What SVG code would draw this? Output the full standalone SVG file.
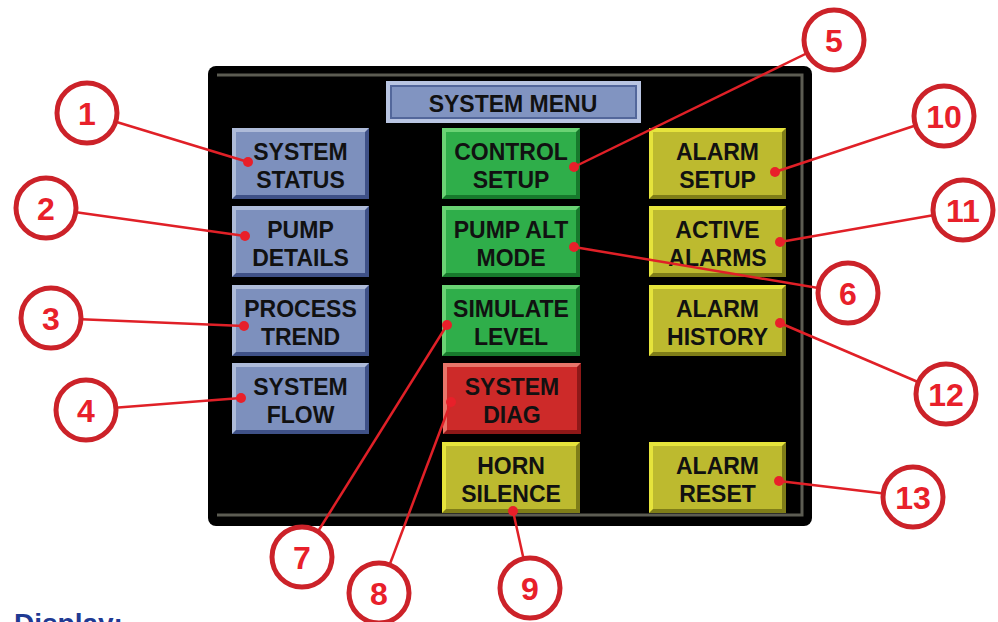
<svg xmlns="http://www.w3.org/2000/svg" width="998" height="622" viewBox="0 0 998 622">
<style>
.btxt{font-family:"Liberation Sans",Arial,sans-serif;font-weight:bold;font-size:23px;fill:#111;text-anchor:middle}
.num{font-family:"Liberation Sans",Arial,sans-serif;font-weight:bold;font-size:32px;fill:#e8202a;text-anchor:middle}
.ring{fill:#fff;stroke:#cc2229;stroke-width:5}
.lead{stroke:#e02027;stroke-width:2.5;fill:none}
.dot{fill:#e8202a}
.blue .sh{fill:#3f5187}.blue .hi{fill:#aebbd9}.blue .fc{fill:#7d90bd}
.green .sh{fill:#17792c}.green .hi{fill:#6ad374}.green .fc{fill:#2fae4a}
.red .sh{fill:#8e1818}.red .hi{fill:#e8756a}.red .fc{fill:#cd2a29}
.yellow .sh{fill:#7f7d18}.yellow .hi{fill:#e6e43c}.yellow .fc{fill:#bdba2f}
</style>
<rect width="998" height="622" fill="#fff"/>
<g id="panel">
<rect x="208" y="66" width="604" height="460" rx="8" fill="#000"/>
<path d="M217,75 H802 V515 H217" fill="none" stroke="#5c5c52" stroke-width="3"/>
</g>
<g id="title">
<rect x="386" y="81" width="255" height="42" fill="#b9c5e2"/>
<rect x="390" y="85" width="247" height="34" fill="#53679b"/>
<rect x="392" y="87" width="243" height="30" fill="#8194c1"/>
<text x="513" y="112" class="btxt">SYSTEM MENU</text>
</g>
<g id="btn-system-status" class="blue">
<rect x="232" y="128" width="137" height="71" class="sh"/>
<polygon points="232,128 369,128 365,132 236,132 236,195 232,199" class="hi"/>
<rect x="236" y="132" width="129" height="63" class="fc"/>
<text x="300.5" y="160" class="btxt">SYSTEM</text><text x="300.5" y="188" class="btxt">STATUS</text>
</g>
<g id="btn-pump-details" class="blue">
<rect x="232" y="206" width="137" height="71" class="sh"/>
<polygon points="232,206 369,206 365,210 236,210 236,273 232,277" class="hi"/>
<rect x="236" y="210" width="129" height="63" class="fc"/>
<text x="300.5" y="238" class="btxt">PUMP</text><text x="300.5" y="266" class="btxt">DETAILS</text>
</g>
<g id="btn-process-trend" class="blue">
<rect x="232" y="285" width="137" height="71" class="sh"/>
<polygon points="232,285 369,285 365,289 236,289 236,352 232,356" class="hi"/>
<rect x="236" y="289" width="129" height="63" class="fc"/>
<text x="300.5" y="317" class="btxt">PROCESS</text><text x="300.5" y="345" class="btxt">TREND</text>
</g>
<g id="btn-system-flow" class="blue">
<rect x="232" y="363" width="137" height="71" class="sh"/>
<polygon points="232,363 369,363 365,367 236,367 236,430 232,434" class="hi"/>
<rect x="236" y="367" width="129" height="63" class="fc"/>
<text x="300.5" y="395" class="btxt">SYSTEM</text><text x="300.5" y="423" class="btxt">FLOW</text>
</g>
<g id="btn-control-setup" class="green">
<rect x="442" y="128" width="138" height="71" class="sh"/>
<polygon points="442,128 580,128 576,132 446,132 446,195 442,199" class="hi"/>
<rect x="446" y="132" width="130" height="63" class="fc"/>
<text x="511" y="160" class="btxt">CONTROL</text><text x="511" y="188" class="btxt">SETUP</text>
</g>
<g id="btn-pump-alt-mode" class="green">
<rect x="442" y="206" width="138" height="71" class="sh"/>
<polygon points="442,206 580,206 576,210 446,210 446,273 442,277" class="hi"/>
<rect x="446" y="210" width="130" height="63" class="fc"/>
<text x="511" y="238" class="btxt">PUMP ALT</text><text x="511" y="266" class="btxt">MODE</text>
</g>
<g id="btn-simulate-level" class="green">
<rect x="442" y="285" width="138" height="71" class="sh"/>
<polygon points="442,285 580,285 576,289 446,289 446,352 442,356" class="hi"/>
<rect x="446" y="289" width="130" height="63" class="fc"/>
<text x="511" y="317" class="btxt">SIMULATE</text><text x="511" y="345" class="btxt">LEVEL</text>
</g>
<g id="btn-system-diag" class="red">
<rect x="443" y="363" width="138" height="71" class="sh"/>
<polygon points="443,363 581,363 577,367 447,367 447,430 443,434" class="hi"/>
<rect x="447" y="367" width="130" height="63" class="fc"/>
<text x="512" y="395" class="btxt">SYSTEM</text><text x="512" y="423" class="btxt">DIAG</text>
</g>
<g id="btn-horn-silence" class="yellow">
<rect x="442" y="442" width="138" height="71" class="sh"/>
<polygon points="442,442 580,442 576,446 446,446 446,509 442,513" class="hi"/>
<rect x="446" y="446" width="130" height="63" class="fc"/>
<text x="511" y="474" class="btxt">HORN</text><text x="511" y="502" class="btxt">SILENCE</text>
</g>
<g id="btn-alarm-setup" class="yellow">
<rect x="649" y="128" width="137" height="71" class="sh"/>
<polygon points="649,128 786,128 782,132 653,132 653,195 649,199" class="hi"/>
<rect x="653" y="132" width="129" height="63" class="fc"/>
<text x="717.5" y="160" class="btxt">ALARM</text><text x="717.5" y="188" class="btxt">SETUP</text>
</g>
<g id="btn-active-alarms" class="yellow">
<rect x="649" y="206" width="137" height="71" class="sh"/>
<polygon points="649,206 786,206 782,210 653,210 653,273 649,277" class="hi"/>
<rect x="653" y="210" width="129" height="63" class="fc"/>
<text x="717.5" y="238" class="btxt">ACTIVE</text><text x="717.5" y="266" class="btxt">ALARMS</text>
</g>
<g id="btn-alarm-history" class="yellow">
<rect x="649" y="285" width="137" height="71" class="sh"/>
<polygon points="649,285 786,285 782,289 653,289 653,352 649,356" class="hi"/>
<rect x="653" y="289" width="129" height="63" class="fc"/>
<text x="717.5" y="317" class="btxt">ALARM</text><text x="717.5" y="345" class="btxt">HISTORY</text>
</g>
<g id="btn-alarm-reset" class="yellow">
<rect x="649" y="442" width="137" height="71" class="sh"/>
<polygon points="649,442 786,442 782,446 653,446 653,509 649,513" class="hi"/>
<rect x="653" y="446" width="129" height="63" class="fc"/>
<text x="717.5" y="474" class="btxt">ALARM</text><text x="717.5" y="502" class="btxt">RESET</text>
</g>
<g id="connectors">
<line x1="248" y1="162" x2="87" y2="113" class="lead"/><circle cx="248" cy="162" r="5" class="dot"/>
<line x1="245" y1="236" x2="46" y2="208" class="lead"/><circle cx="245" cy="236" r="5" class="dot"/>
<line x1="244" y1="326" x2="51" y2="318" class="lead"/><circle cx="244" cy="326" r="5" class="dot"/>
<line x1="241" y1="398" x2="86" y2="410" class="lead"/><circle cx="241" cy="398" r="5" class="dot"/>
<line x1="574" y1="167" x2="834" y2="40" class="lead"/><circle cx="574" cy="167" r="5" class="dot"/>
<line x1="574" y1="247" x2="848" y2="293" class="lead"/><circle cx="574" cy="247" r="5" class="dot"/>
<line x1="447" y1="325" x2="302" y2="557" class="lead"/><circle cx="447" cy="325" r="5" class="dot"/>
<line x1="451" y1="402" x2="379" y2="593" class="lead"/><circle cx="451" cy="402" r="5" class="dot"/>
<line x1="513" y1="511" x2="530" y2="588" class="lead"/><circle cx="513" cy="511" r="5" class="dot"/>
<line x1="775" y1="172" x2="944" y2="116" class="lead"/><circle cx="775" cy="172" r="5" class="dot"/>
<line x1="780" y1="242" x2="963" y2="210" class="lead"/><circle cx="780" cy="242" r="5" class="dot"/>
<line x1="780" y1="323" x2="946" y2="394" class="lead"/><circle cx="780" cy="323" r="5" class="dot"/>
<line x1="779" y1="481" x2="913" y2="497" class="lead"/><circle cx="779" cy="481" r="5" class="dot"/>
</g>
<g id="callout-1"><circle cx="87" cy="113" r="30" class="ring"/><text x="87" y="125" class="num">1</text></g>
<g id="callout-2"><circle cx="46" cy="208" r="30" class="ring"/><text x="46" y="220" class="num">2</text></g>
<g id="callout-3"><circle cx="51" cy="318" r="30" class="ring"/><text x="51" y="330" class="num">3</text></g>
<g id="callout-4"><circle cx="86" cy="410" r="30" class="ring"/><text x="86" y="422" class="num">4</text></g>
<g id="callout-5"><circle cx="834" cy="40" r="30" class="ring"/><text x="834" y="52" class="num">5</text></g>
<g id="callout-6"><circle cx="848" cy="293" r="30" class="ring"/><text x="848" y="305" class="num">6</text></g>
<g id="callout-7"><circle cx="302" cy="557" r="30" class="ring"/><text x="302" y="569" class="num">7</text></g>
<g id="callout-8"><circle cx="379" cy="593" r="30" class="ring"/><text x="379" y="605" class="num">8</text></g>
<g id="callout-9"><circle cx="530" cy="588" r="30" class="ring"/><text x="530" y="600" class="num">9</text></g>
<g id="callout-10"><circle cx="944" cy="116" r="30" class="ring"/><text x="944" y="128" class="num">10</text></g>
<g id="callout-11"><circle cx="963" cy="210" r="30" class="ring"/><text x="963" y="222" class="num">11</text></g>
<g id="callout-12"><circle cx="946" cy="394" r="30" class="ring"/><text x="946" y="406" class="num">12</text></g>
<g id="callout-13"><circle cx="913" cy="497" r="30" class="ring"/><text x="913" y="509" class="num">13</text></g>
<text x="14" y="633" font-family="'Liberation Sans',Arial,sans-serif" font-weight="bold" font-size="28" fill="#1f3a93">Display:</text>
</svg>
